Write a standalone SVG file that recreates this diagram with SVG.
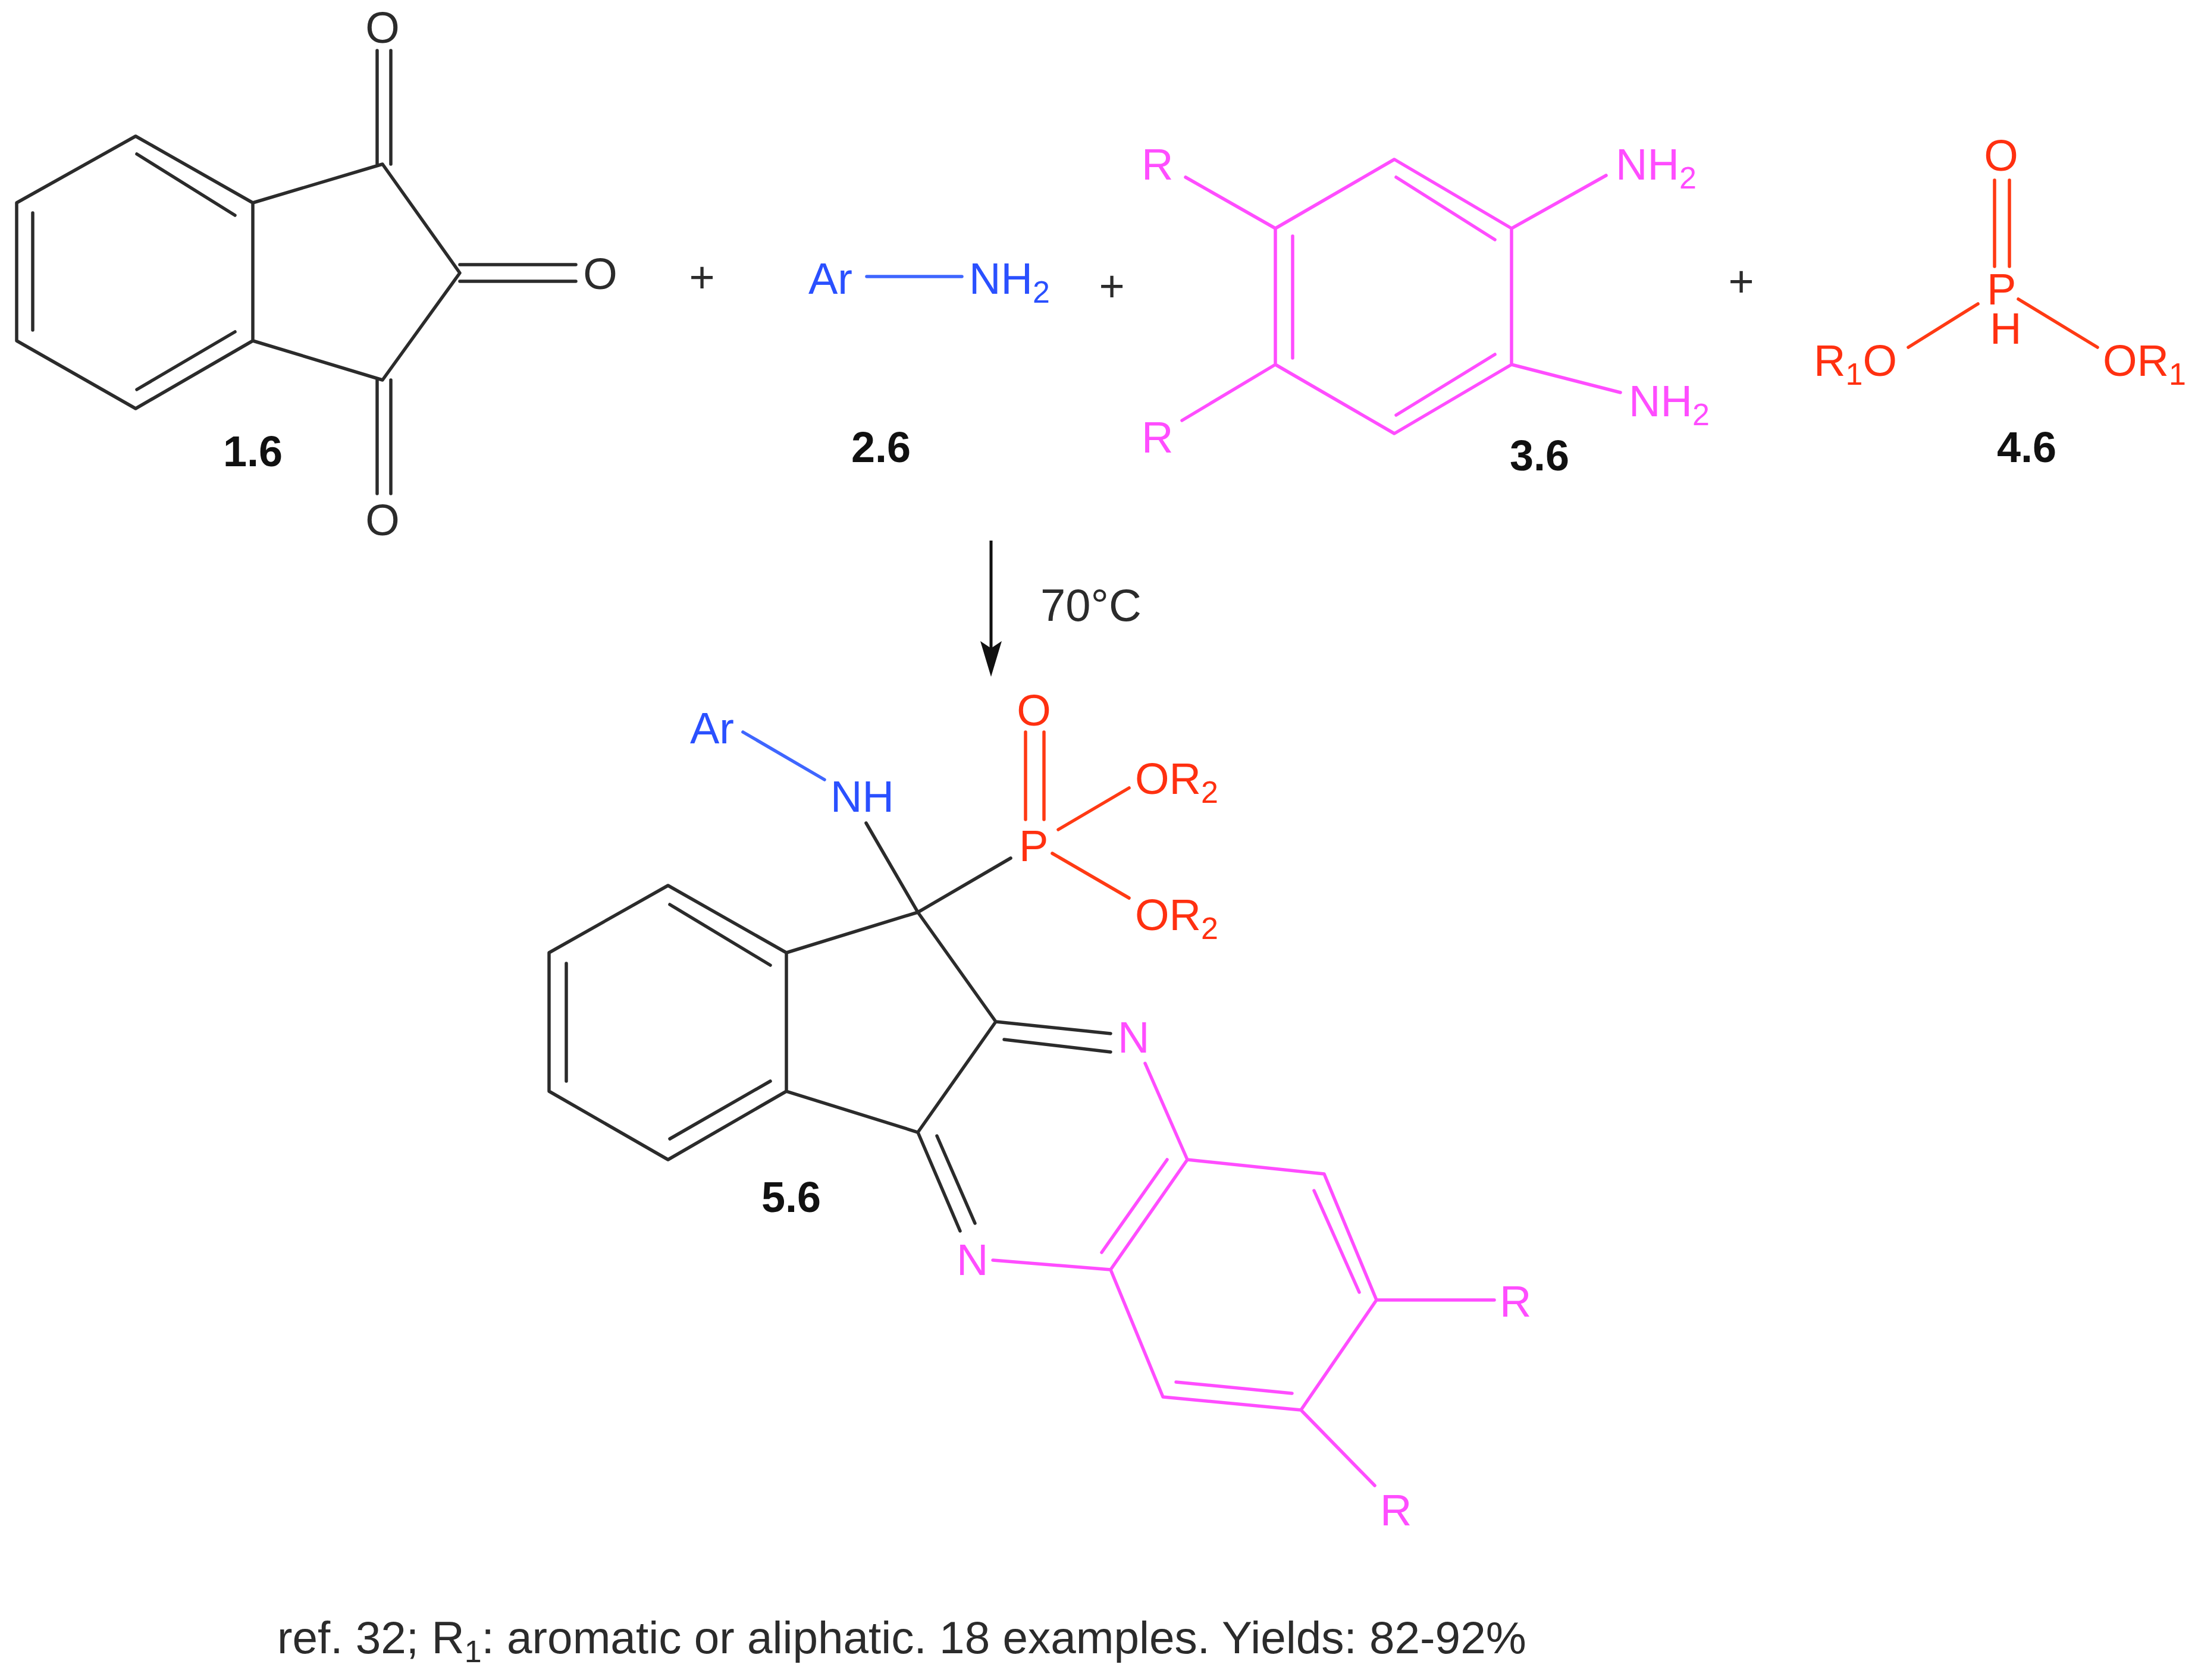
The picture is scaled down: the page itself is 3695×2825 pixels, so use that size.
<svg xmlns="http://www.w3.org/2000/svg" width="3695" height="2825" viewBox="0 0 3695 2825">
<style>
text{font-family:"Liberation Sans",Arial,sans-serif;font-size:74px}
.b{font-size:72px;font-weight:bold;text-anchor:middle;fill:#111}
.m{text-anchor:middle}
.w{font-size:76px}
.c{font-size:76.5px}
tspan.s{font-size:52px}
.k{stroke:#2b2b2b;fill:none;stroke-width:5.5;stroke-linecap:round;stroke-linejoin:round}
.p{stroke:#ff4dff;fill:none;stroke-width:5.5;stroke-linecap:round;stroke-linejoin:round}
.r{stroke:#ff3a14;fill:none;stroke-width:5.5;stroke-linecap:round;stroke-linejoin:round}
.u{stroke:#3f66ff;fill:none;stroke-width:5.5;stroke-linecap:round;stroke-linejoin:round}
.tk{fill:#2b2b2b}.tp{fill:#ff4dff}.tr{fill:#ff3010}.tu{fill:#2a50ff}
</style>
<defs>
<marker id="ah" markerUnits="userSpaceOnUse" markerWidth="60" markerHeight="36" refX="47" refY="18" orient="auto" viewBox="0 0 60 36"><path d="M0 0L60 18L0 36L12 18Z" fill="#111"/></marker>
</defs>
<rect width="3695" height="2825" fill="#fff"/>
<g id="compound-1-6">
<path class="k" d="M228 229L425 341V573L228 687L28 573V341ZM425 341L643 276L773 459L643 639L425 573M230 259L395 362M55 358V555M230 655L395 558M634 85V276M657 85V276M773 445H968M773 473H968M634 639V830M657 639V830"/>
<text class="tk m" x="643" y="72">O</text>
<text class="tk m" x="1009" y="486">O</text>
<text class="tk m" x="643" y="900">O</text>
<text class="b" x="425" y="784">1.6</text>
</g>
<text id="plus-1" class="tk m" x="1180" y="492">+</text>
<g id="compound-2-6">
<path class="u" d="M1457 465H1617"/>
<text class="tu" x="1359" y="494">Ar</text>
<text class="tu" x="1629" y="494">NH<tspan class="s" dy="15">2</tspan></text>
<text class="b" x="1481" y="777">2.6</text>
</g>
<text id="plus-2" class="tk m" x="1869" y="507">+</text>
<g id="compound-3-6">
<path class="p" d="M2344 268L2541 384V613L2344 729L2144 613V384ZM2347 298L2513 403M2173 397V602M2513 596L2347 698M1993 298L2144 384M1987 707L2144 613M2700 295L2541 384M2541 613L2724 660"/>
<text class="tp" x="1919" y="302">R</text>
<text class="tp" x="1919" y="761">R</text>
<text class="tp" x="2716" y="302">NH<tspan class="s" dy="15">2</tspan></text>
<text class="tp" x="2738" y="700">NH<tspan class="s" dy="15">2</tspan></text>
<text class="b" x="2588" y="791">3.6</text>
</g>
<text id="plus-3" class="tk m" x="2927" y="499">+</text>
<g id="compound-4-6">
<path class="r" d="M3353 303V448M3378 303V448M3325 511L3208 584M3393 503L3526 584"/>
<text class="tr m" x="3364" y="287">O</text>
<text class="tr" x="3340" y="512">P</text>
<text class="tr" x="3345" y="578">H</text>
<text class="tr" x="3049" y="632">R<tspan class="s" dy="15">1</tspan><tspan dy="-15">O</tspan></text>
<text class="tr" x="3535" y="632">OR<tspan class="s" dy="15">1</tspan></text>
<text class="b" x="3407" y="777">4.6</text>
</g>
<g id="connectors">
<path d="M1666 909V1125" stroke="#111" stroke-width="5" fill="none" marker-end="url(#ah)"/>
</g>
<text id="condition" class="tk w" x="1749" y="1044">70°C</text>
<g id="compound-5-6">
<path class="k" d="M1123 1489L1322 1602V1835L1123 1950L923 1835V1602ZM1322 1602L1543 1534L1674 1718L1543 1904L1322 1835M1126 1521L1295 1623M952 1620V1818M1126 1915L1295 1818M1456 1384L1543 1534L1699 1443M1674 1718L1867 1738M1688 1748L1867 1769M1543 1904L1614 2070M1575 1910L1639 2057"/>
<path class="u" d="M1249 1231L1386 1311"/>
<path class="r" d="M1724 1231V1378M1755 1231V1378M1779 1395L1898 1325M1769 1435L1898 1510"/>
<text class="tu" x="1160" y="1250">Ar</text>
<text class="tu" x="1396" y="1365">NH</text>
<text class="tr" x="1713" y="1448">P</text>
<text class="tr m" x="1738" y="1220">O</text>
<text class="tr" x="1908" y="1335">OR<tspan class="s" dy="15">2</tspan></text>
<text class="tr" x="1908" y="1564">OR<tspan class="s" dy="15">2</tspan></text>
<path class="p" d="M1925 1788L1996 1950L2226 1974L2314 2186L2187 2371L1955 2349L1867 2135L1996 1950M1669 2119L1867 2135M1962 1950L1852 2106M2209 2002L2285 2173M1977 2324L2172 2343M2314 2186H2512M2187 2371L2311 2498"/>
<text class="tp" x="1879" y="1770">N</text>
<text class="tp" x="1608" y="2144">N</text>
<text class="tp" x="2521" y="2214">R</text>
<text class="tp" x="2320" y="2565">R</text>
<text class="b" x="1330" y="2038">5.6</text>
</g>
<text id="caption" class="tk c" x="466" y="2780">ref. 32; R<tspan class="s" dy="15">1</tspan><tspan dy="-15">: aromatic or aliphatic. 18 examples. Yields: 82-92%</tspan></text>
</svg>
